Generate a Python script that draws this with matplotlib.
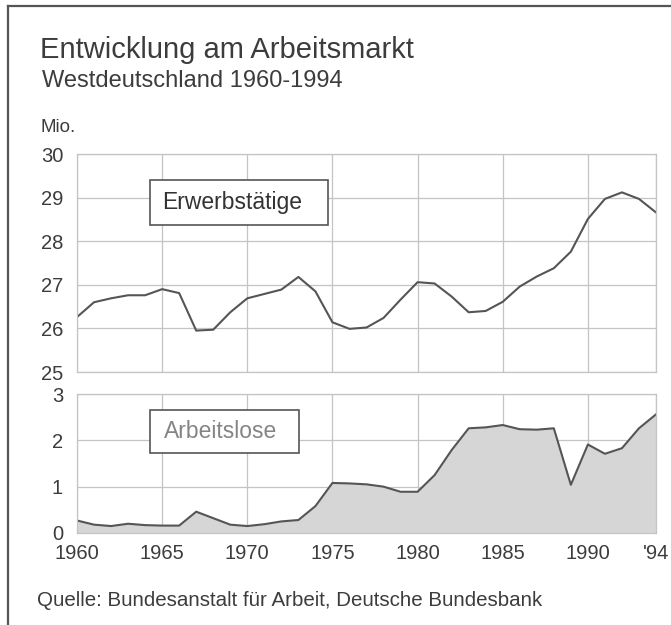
import numpy as np
import matplotlib
matplotlib.use('Agg')
import matplotlib.pyplot as plt
from matplotlib.lines import Line2D
from matplotlib.patches import Rectangle

plt.rcParams['font.family'] = ['Liberation Sans', 'DejaVu Sans']

years = list(range(1960, 1995))
erwerbstaetige = [26.26, 26.60, 26.69, 26.76, 26.76, 26.90, 26.81, 25.95, 25.97, 26.37,
                  26.69, 26.79, 26.89, 27.18, 26.85, 26.14, 25.99, 26.02, 26.24, 26.66,
                  27.06, 27.03, 26.73, 26.37, 26.40, 26.61, 26.96, 27.19, 27.38, 27.76,
                  28.51, 28.97, 29.12, 28.97, 28.66]
arbeitslose = [0.27, 0.18, 0.15, 0.20, 0.17, 0.16, 0.16, 0.46, 0.32, 0.18,
               0.15, 0.19, 0.25, 0.28, 0.58, 1.08, 1.07, 1.05, 1.00, 0.89,
               0.89, 1.25, 1.79, 2.26, 2.28, 2.33, 2.24, 2.23, 2.26, 1.04,
               1.91, 1.71, 1.83, 2.26, 2.56]
xticks = [1960, 1965, 1970, 1975, 1980, 1985, 1990, 1994]
xticklabels = ['1960', '1965', '1970', '1975', '1980', '1985', '1990', "'94"]

txt = '#3c3c3c'
gridc = '#c4c4c4'
linec = '#555555'

fig = plt.figure(figsize=(6.71, 6.25), dpi=100)

# Rahmen oben/links
fig.add_artist(Line2D([8/671, 8/671], [0, 1 - 6/625], transform=fig.transFigure, color='#555555', lw=1.6))
fig.add_artist(Line2D([8/671, 1], [1 - 6/625, 1 - 6/625], transform=fig.transFigure, color='#555555', lw=1.6))

ax1 = fig.add_axes([77/671, 1 - 372/625, 579/671, 218/625])
ax2 = fig.add_axes([77/671, 1 - 533/625, 579/671, 139/625])

ax1.plot(years, erwerbstaetige, color=linec, lw=1.5)
ax1.set_ylim(25, 30)
ax1.set_yticks([25, 26, 27, 28, 29, 30])

ax2.fill_between(years, arbeitslose, 0, color='#d6d6d6', lw=0)
ax2.plot(years, arbeitslose, color=linec, lw=1.5)
ax2.set_ylim(0, 3)
ax2.set_yticks([0, 1, 2, 3])

for ax in (ax1, ax2):
    ax.set_xlim(1960, 1994)
    ax.set_xticks(xticks)
    ax.grid(True, color=gridc, lw=0.9)
    ax.set_axisbelow(True)
    for s in ax.spines.values():
        s.set_color(gridc)
        s.set_linewidth(0.9)
    ax.tick_params(length=0, labelsize=14.5, labelcolor=txt, pad=10)

ax1.set_xticklabels([])
ax2.set_xticklabels(xticklabels)
ax2.tick_params(axis='x', pad=8)

# Beschriftungskästen
ax1.add_patch(Rectangle((0.126, 0.674), 0.3075, 0.207, transform=ax1.transAxes,
                        fc='white', ec='#555555', lw=1.2, zorder=5))
ax1.text(0.2686, 0.7775, 'Erwerbstätige', transform=ax1.transAxes, ha='center', va='center',
         fontsize=16.5, color='#333333', zorder=6)
ax2.add_patch(Rectangle((0.126, 0.5755), 0.2574, 0.3095, transform=ax2.transAxes,
                        fc='white', ec='#555555', lw=1.2, zorder=5))
ax2.text(0.2478, 0.730, 'Arbeitslose', transform=ax2.transAxes, ha='center', va='center',
         fontsize=16.5, color='#858585', zorder=6)

fig.text(40/671, 1 - 58/625, 'Entwicklung am Arbeitsmarkt', fontsize=21, color=txt, va='baseline')
fig.text(42/671, 1 - 87/625, 'Westdeutschland 1960-1994', fontsize=17, color=txt, va='baseline')
fig.text(40/671, 1 - 132/625, 'Mio.', fontsize=13.5, color=txt, va='baseline')
fig.text(37/671, 1 - 606/625, 'Quelle: Bundesanstalt für Arbeit, Deutsche Bundesbank', fontsize=14.8,
         color=txt, va='baseline')

fig.savefig('out.png', dpi=100, facecolor='white')
